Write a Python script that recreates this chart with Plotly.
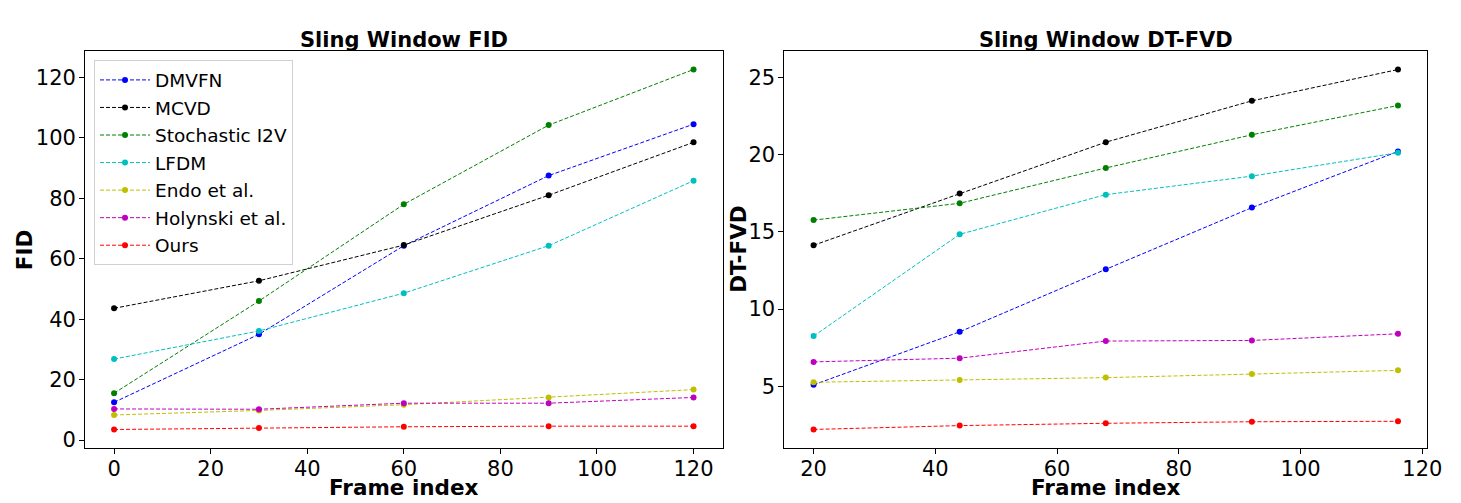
import plotly.graph_objects as go

methods = ["DMVFN", "MCVD", "Stochastic I2V", "LFDM", "Endo et al.", "Holynski et al.", "Ours"]
colors = ["#0000ff", "#000000", "#008000", "#00bfbf", "#bfbf00", "#bf00bf", "#ff0000"]

fid_frames = [0, 30, 60, 90, 120]
fid_dmvfn = [12.5, 35.0, 64.3, 87.5, 104.5]
fid_mcvd = [43.6, 52.7, 64.5, 81.0, 98.5]
fid_si2v = [15.5, 46.0, 78.0, 104.2, 122.6]
fid_lfdm = [26.8, 36.1, 48.6, 64.3, 85.8]
fid_endo = [8.3, 9.8, 11.7, 14.1, 16.7]
fid_holynski = [10.3, 10.2, 12.2, 12.2, 14.1]
fid_ours = [3.5, 4.0, 4.4, 4.6, 4.6]

fvd_frames = [20, 44, 68, 92, 116]
fvd_dmvfn = [5.09, 8.53, 12.58, 16.58, 20.22]
fvd_mcvd = [14.14, 17.5, 20.82, 23.5, 25.53]
fvd_si2v = [15.77, 16.86, 19.15, 21.3, 23.2]
fvd_lfdm = [8.25, 14.85, 17.42, 18.62, 20.14]
fvd_endo = [5.26, 5.41, 5.56, 5.79, 6.03]
fvd_holynski = [6.58, 6.82, 7.93, 7.97, 8.40]
fvd_ours = [2.2, 2.45, 2.6, 2.7, 2.73]

fid_series = [fid_dmvfn, fid_mcvd, fid_si2v, fid_lfdm, fid_endo, fid_holynski, fid_ours]
fvd_series = [fvd_dmvfn, fvd_mcvd, fvd_si2v, fvd_lfdm, fvd_endo, fvd_holynski, fvd_ours]

FONT = "DejaVu Sans"
DASH = "4px,2px"
fig = go.Figure()

for name, c, ys in zip(methods, colors, fid_series):
    fig.add_trace(go.Scatter(x=fid_frames, y=ys, name=name, mode="lines+markers",
                             line=dict(color=c, width=1, dash=DASH),
                             marker=dict(color=c, size=6),
                             xaxis="x", yaxis="y", legendgroup=name))
for name, c, ys in zip(methods, colors, fvd_series):
    fig.add_trace(go.Scatter(x=fvd_frames, y=ys, name=name, mode="lines+markers",
                             line=dict(color=c, width=1, dash=DASH),
                             marker=dict(color=c, size=6),
                             xaxis="x2", yaxis="y2", showlegend=False, legendgroup=name))

# invisible carrier traces for the tick-label overlay axes
for xa, ya, xs, ys in [("x", "y3", fid_frames, fid_ours), ("x2", "y4", fvd_frames, fvd_ours),
                       ("x3", "y", fid_frames, fid_ours), ("x4", "y2", fvd_frames, fvd_ours)]:
    fig.add_trace(go.Scatter(x=xs, y=ys, mode="markers", opacity=0,
                             xaxis=xa, yaxis=ya, showlegend=False, hoverinfo="skip"))

W, H = 1461, 503
def px_x(p): return p / W
def px_y(p): return (H - p) / H

axis_common = dict(showline=True, linecolor="black", linewidth=1.2, mirror=True,
                   ticks="outside", ticklen=5, tickwidth=1, tickcolor="black",
                   showgrid=False, zeroline=False, showticklabels=False)
def label_axis(tl):
    return dict(showline=False, ticks="outside", ticklen=tl, tickcolor="rgba(0,0,0,0)",
                showgrid=False, zeroline=False,
                tickfont=dict(family=FONT, size=21, color="black"))
title_font = dict(family=FONT, size=21.5, color="black")
head_font = dict(family=FONT, size=21, color="black")

L1, R1 = 86, 730
L2, R2 = 792.5, 1442
TOP, BOT = 52, 452
XR1 = [-6, 126]
XR2 = [15.2, 120.8]
RNG1 = [-2.46, 128.56]
RNG2 = [1.03, 26.7]

fig.update_layout(
    width=W, height=H,
    margin=dict(l=0, r=0, t=0, b=0),
    paper_bgcolor="white", plot_bgcolor="white",
    font=dict(family=FONT, color="black"),
    xaxis=dict(domain=[px_x(L1), px_x(R1)], range=XR1, dtick=20, tick0=0,
               anchor="y", **axis_common),
    xaxis3=dict(domain=[px_x(L1), px_x(R1)], range=XR1, dtick=20, tick0=0,
                overlaying="x", anchor="y", side="bottom", **label_axis(2)),
    yaxis=dict(domain=[px_y(BOT), px_y(TOP)], range=RNG1, dtick=20, tick0=0,
               anchor="x", **axis_common),
    yaxis3=dict(domain=[px_y(BOT), px_y(TOP)], range=RNG1, dtick=20, tick0=0,
                overlaying="y", anchor="x", side="left", **label_axis(4)),
    xaxis2=dict(domain=[px_x(L2), px_x(R2)], range=XR2, dtick=20, tick0=0,
                anchor="y2", **axis_common),
    xaxis4=dict(domain=[px_x(L2), px_x(R2)], range=XR2, dtick=20, tick0=0,
                overlaying="x2", anchor="y2", side="bottom", **label_axis(2)),
    yaxis2=dict(domain=[px_y(BOT), px_y(TOP)], range=RNG2, dtick=5, tick0=0,
                anchor="x2", **axis_common),
    yaxis4=dict(domain=[px_y(BOT), px_y(TOP)], range=RNG2, dtick=5, tick0=0,
                overlaying="y2", anchor="x2", side="left", **label_axis(4)),
    legend=dict(x=px_x(95), y=px_y(61), xanchor="left", yanchor="top",
                bgcolor="rgba(255,255,255,0.8)", bordercolor="#d0d0d0", borderwidth=1,
                itemwidth=50, tracegroupgap=0.5,
                font=dict(family=FONT, size=18.5, color="black")),
    annotations=[
        dict(text="<b>Sling Window FID</b>", x=px_x((L1 + R1) / 2), y=px_y(40),
             xref="paper", yref="paper", showarrow=False, xanchor="center", yanchor="middle",
             font=head_font),
        dict(text="<b>Sling Window DT-FVD</b>", x=px_x((L2 + R2) / 2), y=px_y(40),
             xref="paper", yref="paper", showarrow=False, xanchor="center", yanchor="middle",
             font=head_font),
        dict(text="<b>Frame index</b>", x=px_x((L1 + R1) / 2), y=px_y(492),
             xref="paper", yref="paper", showarrow=False, xanchor="center", yanchor="middle",
             font=title_font),
        dict(text="<b>Frame index</b>", x=px_x((L2 + R2) / 2), y=px_y(492),
             xref="paper", yref="paper", showarrow=False, xanchor="center", yanchor="middle",
             font=title_font),
        dict(text="<b>FID</b>", x=px_x(25), y=px_y((TOP + BOT) / 2), textangle=-90,
             xref="paper", yref="paper", showarrow=False, xanchor="center", yanchor="middle",
             font=title_font),
        dict(text="<b>DT-FVD</b>", x=px_x(746), y=px_y((TOP + BOT) / 2), textangle=-90,
             xref="paper", yref="paper", showarrow=False, xanchor="center", yanchor="middle",
             font=title_font),
    ],
)

fig.write_html("out.html")
